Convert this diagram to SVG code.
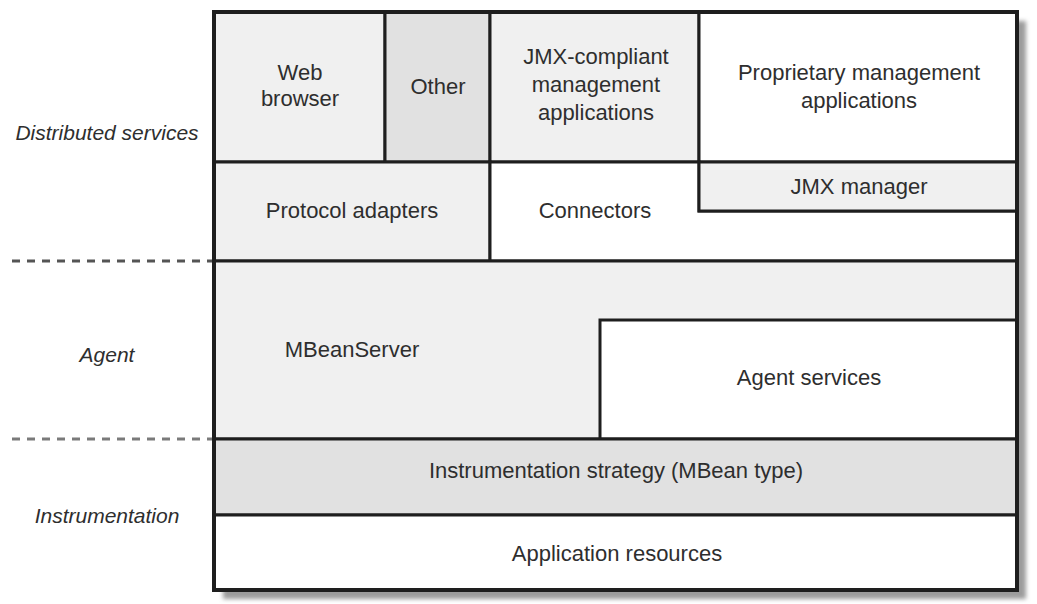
<svg xmlns="http://www.w3.org/2000/svg" width="1037" height="604" viewBox="0 0 1037 604">
  <defs>
    <filter id="soft" x="-5%" y="-5%" width="110%" height="110%">
      <feGaussianBlur stdDeviation="2"/>
    </filter>
    <style>
      .cell { stroke: #1e1e1e; stroke-width: 3; }
      .light { fill: #f0f0f0; }
      .mid { fill: #e1e1e1; }
      .white { fill: #ffffff; }
      .lbl { font-family: "Liberation Sans", Arial, sans-serif; font-size: 22px; fill: #2e2e2e; text-anchor: middle; }
      .side { font-family: "Liberation Sans", Arial, sans-serif; font-size: 21px; font-style: italic; fill: #2e2e2e; text-anchor: middle; }
      .sep { stroke: #555; stroke-width: 3; stroke-dasharray: 8 7; fill: none; }
    </style>
  </defs>

  <rect width="1037" height="604" fill="#ffffff"/>

  <!-- drop shadow behind the stack -->
  <rect x="223" y="21" width="803" height="578" fill="#9c9c9c" filter="url(#soft)"/>

  <!-- layer names on the left -->
  <g id="layer-labels">
    <text class="side" x="107" y="140">Distributed services</text>
    <text class="side" x="107" y="362">Agent</text>
    <text class="side" x="107" y="523">Instrumentation</text>
  </g>

  <!-- dashed layer separators -->
  <g id="connectors">
    <line class="sep" x1="12" y1="261" x2="214" y2="261"/>
    <line class="sep" x1="12" y1="439" x2="214" y2="439" style="stroke:#7a7a7a"/>
  </g>

  <g id="web-browser">
    <rect class="cell light" x="214" y="12" width="171" height="150"/>
    <text class="lbl" x="300" y="80">Web</text>
    <text class="lbl" x="300" y="106">browser</text>
  </g>

  <g id="other">
    <rect class="cell mid" x="385" y="12" width="105" height="150"/>
    <text class="lbl" x="438" y="94">Other</text>
  </g>

  <g id="jmx-compliant-apps">
    <rect class="cell light" x="490" y="12" width="209" height="150"/>
    <text class="lbl" x="596" y="64">JMX-compliant</text>
    <text class="lbl" x="596" y="92">management</text>
    <text class="lbl" x="596" y="120">applications</text>
  </g>

  <g id="proprietary-apps">
    <rect class="cell white" x="699" y="12" width="318" height="150"/>
    <text class="lbl" x="859" y="80">Proprietary management</text>
    <text class="lbl" x="859" y="108">applications</text>
  </g>

  <g id="protocol-adapters">
    <rect class="cell light" x="214" y="162" width="276" height="99"/>
    <text class="lbl" x="352" y="218">Protocol adapters</text>
  </g>

  <g id="connectors-box">
    <path class="cell white" d="M490 162 H699 V211 H1017 V261 H490 Z"/>
    <text class="lbl" x="595" y="218">Connectors</text>
  </g>

  <g id="jmx-manager">
    <rect class="cell light" x="699" y="162" width="318" height="49"/>
    <text class="lbl" x="859" y="194">JMX manager</text>
  </g>

  <g id="mbean-server">
    <rect class="cell light" x="214" y="261" width="803" height="178"/>
    <text class="lbl" x="352" y="357">MBeanServer</text>
  </g>

  <g id="agent-services">
    <rect class="cell white" x="600" y="320" width="417" height="119"/>
    <text class="lbl" x="809" y="385">Agent services</text>
  </g>

  <g id="instrumentation-strategy">
    <rect class="cell mid" x="214" y="439" width="803" height="76"/>
    <text class="lbl" x="616" y="478">Instrumentation strategy (MBean type)</text>
  </g>

  <g id="application-resources">
    <rect class="cell white" x="214" y="515" width="803" height="75"/>
    <text class="lbl" x="617" y="561">Application resources</text>
  </g>

  <!-- heavier outline around the whole stack -->
  <rect x="214" y="12" width="803" height="578" fill="none" stroke="#1e1e1e" stroke-width="4"/>
</svg>
